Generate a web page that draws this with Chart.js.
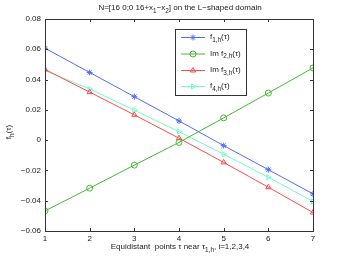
<!DOCTYPE html>
<html><head><meta charset="utf-8">
<script src="https://cdn.jsdelivr.net/npm/chart.js@4/dist/chart.umd.min.js"></script>
<style>html,body{margin:0;padding:0;background:#fff}#w{width:346px;height:260px}</style>
</head><body><div id="w"><canvas id="c" width="346" height="260"></canvas></div>
<script>
const xPoints = [1, 2, 3, 4, 5, 6, 7];
const f1 = [0.0607, 0.0447, 0.0287, 0.0127, -0.0036, -0.0195, -0.0355];
const f2 = [-0.0467, -0.0317, -0.0165, -0.0015, 0.0147, 0.0311, 0.0477];
const f3 = [0.0467, 0.0317, 0.0167, 0.0013, -0.0147, -0.0311, -0.0478];
const f4 = [0.0460, 0.0338, 0.0198, 0.0056, -0.0093, -0.0245, -0.0405];
const xTicks = [1, 2, 3, 4, 5, 6, 7];
const yTicks = [-0.06, -0.04, -0.02, 0, 0.02, 0.04, 0.06, 0.08];
const seriesNames = [["f",["1,h"],"(τ)"],["Im f",["2,h"],"(τ)"],["Im f",["3,h"],"(τ)"],["f",["4,h"],"(τ)"]];
const colors = ['#4f6cff', '#44b832', '#ff4a4a', '#6ffccb'];
const styles = ['star', 'circle', 'triangle', 'triangle'];
const rotations = [0, 0, 0, 90];
const FONT = '"Liberation Sans", Arial, sans-serif';

function mk(data, i) {
  return {
    data: xPoints.map((x, k) => ({x: x, y: data[k]})),
    borderColor: colors[i], backgroundColor: 'rgba(0,0,0,0)',
    borderWidth: 1, pointStyle: styles[i], pointRotation: rotations[i],
    pointRadius: 3, pointBorderWidth: 1, pointBorderColor: colors[i],
    tension: 0
  };
}

function drawRich(ctx, parts, x, y, size, align) {
  const subSize = size * 0.8;
  let total = 0;
  const seq = [];
  parts.forEach(p => {
    if (Array.isArray(p)) { ctx.font = subSize + 'px ' + FONT; seq.push([p[0], subSize, 3]); total += ctx.measureText(p[0]).width; }
    else { ctx.font = size + 'px ' + FONT; seq.push([p, size, 0]); total += ctx.measureText(p).width; }
  });
  let cx = align === 'center' ? x - total / 2 : x;
  ctx.textAlign = 'left'; ctx.textBaseline = 'middle';
  seq.forEach(s => { ctx.font = s[1] + 'px ' + FONT; ctx.fillText(s[0], cx, y + s[2]); cx += ctx.measureText(s[0]).width; });
  return total;
}

function drawMarker(ctx, i, x, y) {
  ctx.save();
  ctx.strokeStyle = colors[i]; ctx.lineWidth = 1;
  const r = 3;
  ctx.beginPath();
  if (styles[i] === 'circle') { ctx.arc(x, y, r, 0, Math.PI * 2); }
  else if (styles[i] === 'star') {
    for (let a = 0; a < 4; a++) { const t = a * Math.PI / 4; ctx.moveTo(x - r * Math.cos(t), y - r * Math.sin(t)); ctx.lineTo(x + r * Math.cos(t), y + r * Math.sin(t)); }
  } else {
    const rot = rotations[i] * Math.PI / 180;
    for (let a = 0; a < 3; a++) {
      const t = rot + a * 2 * Math.PI / 3 - Math.PI / 2;
      const px = x + r * Math.cos(t), py = y + r * Math.sin(t);
      a === 0 ? ctx.moveTo(px, py) : ctx.lineTo(px, py);
    }
    ctx.closePath();
  }
  ctx.stroke();
  ctx.restore();
}

const deco = {
  id: 'deco',
  afterDraw(chart) {
    const ctx = chart.ctx, a = chart.chartArea;
    const xs = chart.scales.x, ys = chart.scales.y;
    ctx.save();
    ctx.strokeStyle = '#333'; ctx.lineWidth = 1;
    ctx.strokeRect(Math.round(a.left) + 0.5, Math.round(a.top) + 0.5, Math.round(a.right - a.left), Math.round(a.bottom - a.top));
    ctx.beginPath();
    xTicks.forEach(v => { const px = Math.round(xs.getPixelForValue(v)) + 0.5; ctx.moveTo(px, a.bottom); ctx.lineTo(px, a.bottom - 3); ctx.moveTo(px, a.top); ctx.lineTo(px, a.top + 3); });
    yTicks.forEach(v => { const py = Math.round(ys.getPixelForValue(v)) + 0.5; ctx.moveTo(a.left, py); ctx.lineTo(a.left + 3, py); ctx.moveTo(a.right, py); ctx.lineTo(a.right - 3, py); });
    ctx.stroke();
    ctx.fillStyle = '#222';
    drawRich(ctx, ["N=[16 0;0 16+x", ["1"], "\u2212x", ["2"], "] on the L\u2212shaped domain"], 180, 8, 8, 'center');
    drawRich(ctx, ["Equidistant  points \u03c4 near \u03c4", ["1,h"], ", i=1,2,3,4"], 180, 247, 8, 'center');
    ctx.save(); ctx.translate(10, 132); ctx.rotate(-Math.PI / 2);
    drawRich(ctx, ["f", ["h"], "(\u03c4)"], 0, -1, 8, 'center');
    ctx.restore();
    const L = 175.5, T = 29.5, W = 71, H = 66;
    ctx.fillStyle = '#fff'; ctx.fillRect(L, T, W, H);
    ctx.strokeStyle = '#333'; ctx.strokeRect(L, T, W, H);
    const rows = [37, 53.5, 70, 86];
    rows.forEach((ry, i) => {
      ctx.strokeStyle = colors[i]; ctx.lineWidth = 1;
      ctx.beginPath(); ctx.moveTo(181, ry + 0.5); ctx.lineTo(205, ry + 0.5); ctx.stroke();
      drawMarker(ctx, i, 193, ry + 0.5);
      ctx.fillStyle = '#222';
      drawRich(ctx, seriesNames[i], 210, ry, 8, 'left');
    });
    ctx.restore();
  }
};

new Chart(document.getElementById('c'), {
  type: 'line',
  data: { datasets: [mk(f1, 0), mk(f2, 1), mk(f3, 2), mk(f4, 3)] },
  options: {
    responsive: false, animation: false, devicePixelRatio: 1,
    layout: { padding: { left: 0, top: 19, right: 33, bottom: 0 } },
    plugins: { legend: { display: false }, tooltip: { enabled: false }, title: { display: false } },
    scales: {
      x: {
        type: 'linear', min: 1, max: 7,
        afterBuildTicks: s => { s.ticks = xTicks.map(v => ({value: v})); },
        afterFit: s => { s.height = 29; },
        grid: { display: false, drawTicks: false }, border: { display: false },
        ticks: { color: '#222', font: { family: FONT, size: 8 }, padding: 3, maxRotation: 0, callback: v => String(v) }
      },
      y: {
        type: 'linear', min: -0.06, max: 0.08,
        afterBuildTicks: s => { s.ticks = yTicks.map(v => ({value: v})); },
        afterFit: s => { s.width = 45; },
        grid: { display: false, drawTicks: false }, border: { display: false },
        ticks: { color: '#222', font: { family: FONT, size: 8 }, padding: 4, callback: v => { const r = Math.round(v * 100) / 100; return r === 0 ? '0' : r.toFixed(2).replace('-', '\u2212'); } }
      }
    }
  },
  plugins: [deco]
});
</script></body></html>
